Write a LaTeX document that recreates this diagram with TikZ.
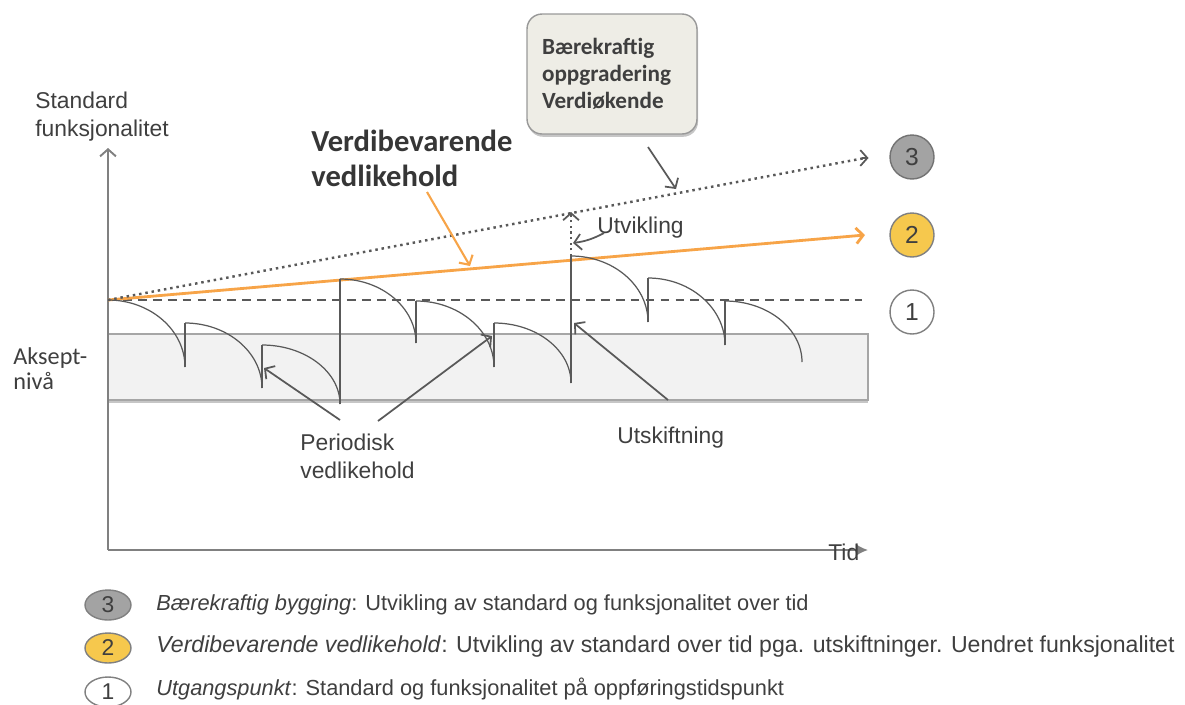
\documentclass[tikz,border=0pt]{standalone}
\usepackage{fontspec}
\setmainfont{Liberation Sans}
\newfontfamily\calibri{Carlito}
\usetikzlibrary{positioning}
\usetikzlibrary{arrows.meta}
\usetikzlibrary{shadows}
\usetikzlibrary{shapes.geometric}

\definecolor{linegray}{HTML}{595959}
\definecolor{txtgray}{HTML}{3F3F3F}
\definecolor{bandfill}{HTML}{F2F2F2}
\definecolor{bandline}{HTML}{A6A6A6}
\definecolor{orangeline}{HTML}{F7A448}
\definecolor{circgray}{HTML}{A3A3A3}
\definecolor{circyellow}{HTML}{F6C84D}
\definecolor{boxfill}{HTML}{EEEDE6}

\tikzset{
  lbl/.style={font=\fontsize{13}{15.5}\selectfont, text=txtgray, align=left, inner sep=0pt},
  leg/.style={font=\fontsize{12.4}{14}\selectfont, text=txtgray, inner sep=0pt, anchor=base west},
  num/.style={circle, draw=gray, line width=0.8pt, minimum size=0.88cm, inner sep=0pt,
    font=\fontsize{14}{16}\selectfont, text=txtgray},
  legnum/.style={ellipse, draw=gray, line width=0.8pt, minimum width=0.92cm, minimum height=0.6cm,
    inner sep=0pt, font=\fontsize{13}{15}\selectfont, text=txtgray},
  axis/.style={draw=gray, line width=1.1pt},
  saw/.style={draw=linegray, line width=0.7pt},
  pointer/.style={draw=linegray, line width=1pt, -{Straight Barb[length=4pt,width=9pt]}},
  dots/.style={draw=linegray, line width=1.4pt, dash pattern=on 1.4pt off 2.2pt},
}

\begin{document}
\begin{tikzpicture}[x=0.02cm, y=-0.02cm]
  % frame of the page
  \useasboundingbox (0,0) rectangle (1185,704);

  % acceptance band
  \draw[fill=bandfill, draw=bandline, line width=0.8pt,
    drop shadow={opacity=0.45, shadow xshift=0pt, shadow yshift=-1.6pt}] (108,334) rectangle (868,400);

  % axes
  \coordinate (O) at (108,550);
  \coordinate (ytop) at (108,148);
  \coordinate (xend) at (868,550);
  \draw[axis, -{Straight Barb[length=4pt,width=9pt]}] (O) -- (ytop);
  \draw[axis, -{Latex[length=7pt,width=7pt]}] (O) -- (xend);
  \node[lbl, anchor=base west] (tid) at (828,560) {Tid};
  \node[lbl, anchor=north west] (std) at (35,92) {Standard\\funksjonalitet};
  \node[lbl, anchor=north west, font=\calibri\fontsize{13.8}{14.4}\selectfont] (aksept) at (13,347) {Aksept-\\nivå};

  % the three levels
  \coordinate (start) at (108,300);
  \coordinate (dashend) at (862,300);
  \coordinate (orgend) at (865,235);
  \coordinate (dotend) at (865,158);
  \draw[draw=linegray, line width=1.5pt, dash pattern=on 5pt off 3.5pt] (start) -- (dashend);
  \draw[draw=orangeline, line width=1.6pt, -{Straight Barb[length=4pt,width=9pt]}] (start) -- (orgend);
  \draw[dots] (start) -- (dotend);
  \draw[draw=linegray, line width=1pt, -{Straight Barb[length=4pt,width=9pt]}] ([xshift=-2pt]dotend) -- ([xshift=2pt]dotend);

  \node[num, fill=circgray, draw=gray!90!black] (c3) at (912,157) {3};
  \node[num, fill=circyellow] (c2) at (912,235) {2};
  \node[num, fill=white] (c1) at (912,312) {1};

  % wear down and maintenance
  \foreach \xa/\ya/\xb/\yb in {108/300/185/367, 185/323/262/388, 262/345/340/404,
      340/279/416/343, 416/301/494/367, 494/323/571/383, 571/256/648/322,
      648/278/725/345, 725/301/802/362} {
    \pgfmathsetmacro\ca{\xa+0.55*(\xb-\xa)}
    \pgfmathsetmacro\cb{\yb-0.55*(\yb-\ya)}
    \draw[saw] (\xa,\ya) .. controls (\ca,\ya) and (\xb,\cb) .. (\xb,\yb);
  }
  \foreach \x/\ylo/\yhi in {185/367/323, 262/388/345, 340/404/279, 416/343/301,
      494/367/323, 571/383/256, 648/322/278, 725/345/301}
    \draw[saw] (\x,\ylo) -- (\x,\yhi);

  % upgrade at the replacement
  \coordinate (repl) at (571,256);
  \coordinate (up) at (571,212);
  \draw[draw=linegray, line width=1.2pt, dash pattern=on 1.2pt off 2pt] (repl) -- ([yshift=-2pt]up);
  \draw[draw=linegray, line width=1pt, -{Straight Barb[length=4pt,width=9pt]}] ([yshift=-3pt]up) -- (up);
  \node[lbl, anchor=base west] (utv) at (597,233) {Utvikling};
  \coordinate (utvfrom) at (604,233);
  \coordinate (utvtip) at (573,243);
  \draw[pointer] (utvfrom) to[bend left=10] (utvtip);

  % info box
  \node[draw=gray!80, fill=boxfill, rounded corners=0.3cm, line width=0.8pt,
    minimum width=3.4cm, minimum height=2.4cm, text width=2.8cm, align=left,
    inner xsep=0.3cm, text=txtgray, font=\calibri\bfseries\fontsize{13.2}{15.3}\selectfont,
    drop shadow={opacity=0.45, shadow xshift=0.6pt, shadow yshift=-1.6pt}]
    (box) at (612,74) {Bærekraftig\\oppgradering\\Verdiøkende};
  \coordinate (boxfrom) at (648,147);
  \coordinate (boxtip) at (676,189);
  \draw[pointer] (boxfrom) -- (boxtip);

  % title of line 2
  \node[lbl, anchor=north west, text=txtgray!85!black,
    font=\calibri\bfseries\fontsize{17.4}{20}\selectfont] (vv) at (311,130) {Verdibevarende\\vedlikehold};
  \coordinate (vvfrom) at (427,192);
  \coordinate (vvtip) at (470,266);
  \draw[draw=orangeline, line width=1.2pt, -{Straight Barb[length=4pt,width=9pt]}] (vvfrom) -- (vvtip);

  % labels below the band
  \node[lbl, anchor=north west] (per) at (300,434) {Periodisk\\vedlikehold};
  \coordinate (per1) at (340,420);
  \coordinate (per2) at (378,421);
  \coordinate (pertip1) at (264,368);
  \coordinate (pertip2) at (492,336);
  \draw[pointer] (per1) -- (pertip1);
  \draw[pointer] (per2) -- (pertip2);

  \node[lbl, anchor=base west] (utsk) at (617,443) {Utskiftning};
  \coordinate (utskfrom) at (668,400);
  \coordinate (utsktip) at (574,323);
  \draw[pointer] (utskfrom) -- (utsktip);

  % legend
  \node[legnum, fill=circgray] (l3) at (108,605) {3};
  \node[legnum, fill=circyellow] (l2) at (108,648) {2};
  \node[legnum, fill=white] (l1) at (108,692) {1};
  \node[leg] (t3) at (156,610) {\textit{Bærekraftig bygging}: Utvikling av standard og funksjonalitet over tid};
  \node[leg, font=\fontsize{13.15}{15}\selectfont] (t2) at (156,652) {\textit{Verdibevarende vedlikehold}: Utvikling av standard over tid pga. utskiftninger. Uendret funksjonalitet};
  \node[leg] (t1) at (156,695) {\textit{Utgangspunkt}: Standard og funksjonalitet på oppføringstidspunkt};
\end{tikzpicture}
\end{document}
